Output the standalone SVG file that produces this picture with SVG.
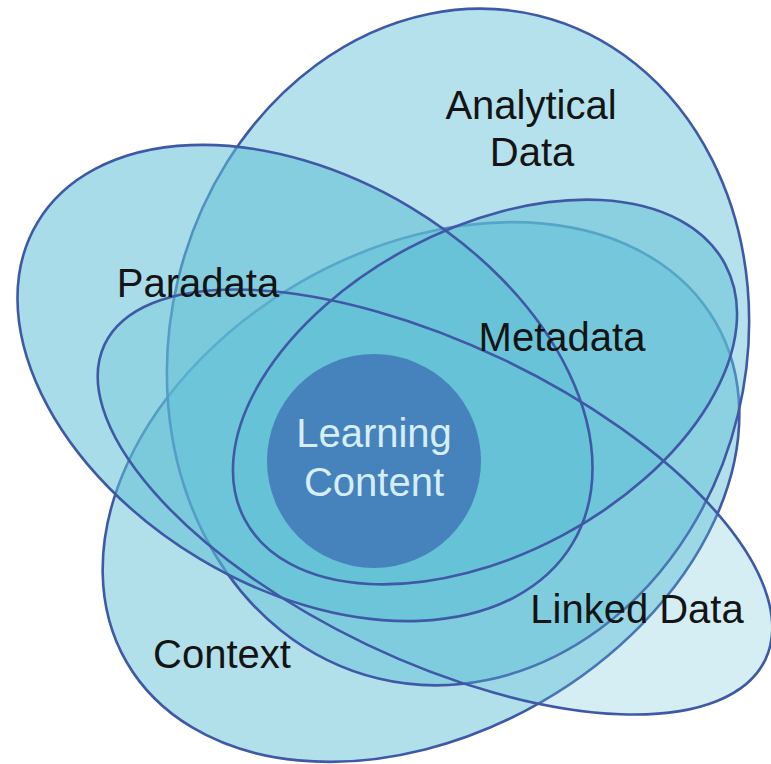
<svg xmlns="http://www.w3.org/2000/svg" xmlns:xlink="http://www.w3.org/1999/xlink" width="771" height="764" viewBox="0 0 771 764">
<style>
.f{fill:#5fc0d6;stroke:none}
.s{fill:none;stroke:#3f59a6;stroke-width:2.6}
.lbl{font-family:"Liberation Sans",Arial,sans-serif;font-size:40px;fill:#141414;text-anchor:middle}
.lc{font-family:"Liberation Sans",Arial,sans-serif;font-size:40px;fill:#d6eef8;text-anchor:middle}
</style>
<defs>
<ellipse id="eC" cx="421" cy="492" rx="340" ry="242" transform="rotate(-30 421 492)"/>
<ellipse id="eA" cx="458" cy="347" rx="288" ry="341" transform="rotate(13.5 458 347)"/>
<ellipse id="eP" cx="305" cy="383" rx="312" ry="205" transform="rotate(31 305 383)"/>
<ellipse id="eL" cx="435" cy="502" rx="366" ry="158" transform="rotate(25.5 435 502)"/>
<ellipse id="eM" cx="485" cy="392" rx="272" ry="163" transform="rotate(-28 485 392)"/>
</defs>
<rect width="771" height="764" fill="#ffffff"/>
<g id="context">
<use xlink:href="#eC" class="f" fill-opacity="0.49"/>
<use xlink:href="#eC" class="s"/>
</g>
<g id="analytical-data">
<use xlink:href="#eA" class="f" fill-opacity="0.47"/>
<use xlink:href="#eA" class="s"/>
</g>
<g id="paradata">
<use xlink:href="#eP" class="f" fill-opacity="0.55"/>
</g>
<g id="linked-data">
<use xlink:href="#eL" class="f" fill-opacity="0.27"/>
</g>
<g id="metadata">
<use xlink:href="#eM" class="f" fill-opacity="0.5"/>
</g>
<g id="outlines">
<use xlink:href="#eP" class="s"/>
<use xlink:href="#eL" class="s"/>
<use xlink:href="#eM" class="s"/>
</g>
<g id="learning-content">
<circle cx="374" cy="461" r="107" fill="#4682bc"/>
<text class="lc" x="374" y="447">Learning</text>
<text class="lc" x="374" y="496">Content</text>
</g>
<g id="labels">
<text class="lbl" x="531" y="119">Analytical</text>
<text class="lbl" x="532" y="166">Data</text>
<text class="lbl" x="198" y="297">Paradata</text>
<text class="lbl" x="562" y="351">Metadata</text>
<text class="lbl" x="637" y="623">Linked Data</text>
<text class="lbl" x="222" y="668">Context</text>
</g>
</svg>
